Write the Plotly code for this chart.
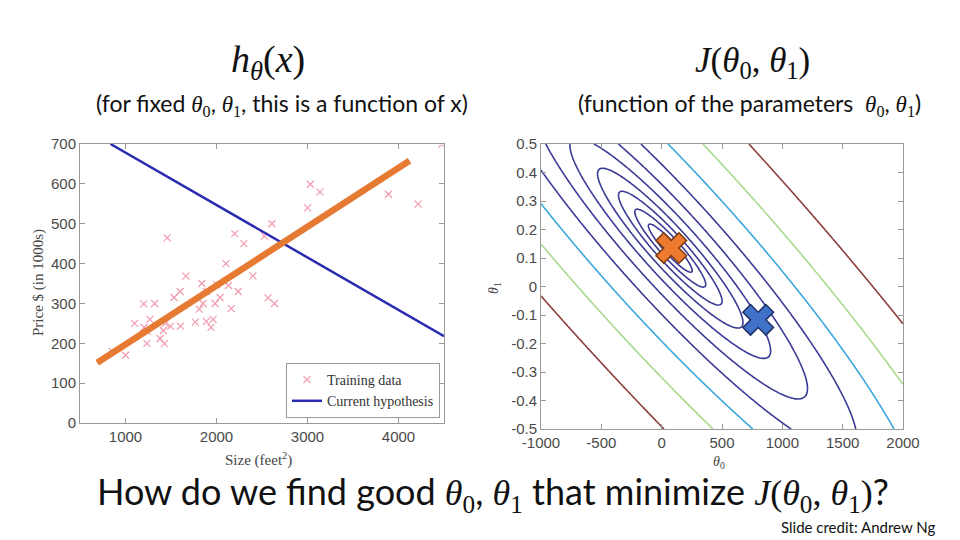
import numpy as np
import plotly.graph_objects as go

# ---------------- data ----------------
size_sqft = [2104, 1600, 2400, 1416, 3000, 1985, 1534, 1427, 1380, 1494, 1940, 2000,
             1890, 4478, 1268, 2300, 1320, 1236, 2609, 3031, 1767, 1888, 1604, 1962,
             3890, 1100, 1458, 2526, 2200, 2637, 1839, 1000, 2040, 3137, 1811, 1437,
             1239, 2132, 4215, 2162, 1664, 2238, 2567, 1200, 852, 1852, 1203]
price_k = [399.9, 329.9, 369.0, 232.0, 539.9, 299.9, 314.9, 199.0, 212.0, 242.5, 240.0, 347.0,
           330.0, 699.9, 259.9, 449.9, 299.9, 199.9, 500.0, 599.0, 252.9, 255.0, 242.9, 259.9,
           573.9, 249.9, 464.5, 469.0, 475.0, 299.9, 349.9, 169.9, 314.9, 579.9, 285.9, 249.9,
           229.9, 345.0, 549.0, 287.0, 368.5, 329.9, 314.0, 299.0, 179.9, 299.9, 239.5]

hyp_x = [835, 4500]      # current hypothesis (blue)
hyp_y = [700, 218]
fit_x = [689, 4121]      # good fit (orange)
fit_y = [151, 658]

theta0_marks = [80, 800]
theta1_marks = [0.135, -0.117]
mark_colors = ["#ec7b30", "#3f72c8"]
mark_edges = ["#7a3a12", "#1d2f66"]

x_ticks = [1000, 2000, 3000, 4000]
y_ticks = [0, 100, 200, 300, 400, 500, 600, 700]
t0_ticks = [-1000, -500, 0, 500, 1000, 1500, 2000]
t0_labels = ["-1000", "-500", "0", "500", "1000", "1500", "2000"]
t1_ticks = [0.5, 0.4, 0.3, 0.2, 0.1, 0, -0.1, -0.2, -0.3, -0.4, -0.5]
t1_labels = ["0.5", "0.4", "0.3", "0.2", "0.1", "0", "-0.1", "-0.2", "-0.3", "-0.4", "-0.5"]

theta0_grid = np.linspace(-1000, 2000, 241)
theta1_grid = np.linspace(-0.5, 0.5, 241)

# cost surface J(theta0, theta1) from the training data
xs = np.array(size_sqft, dtype=float)
ys = np.array(price_k, dtype=float)
T0, T1 = np.meshgrid(theta0_grid, theta1_grid)
J = np.zeros_like(T0)
for xi, yi in zip(xs, ys):
    J += (T0 + T1 * xi - yi) ** 2
J /= 2 * len(xs)
logJ = np.log10(J)

lev_step = 5 / 19
lev_top = 6.0
lev_bot = lev_top - 10 * lev_step

W, H = 960, 540
def px(x):
    return x / W
def py(y):
    return 1 - y / H

fig = go.Figure()

# ---------------- left panel ----------------
fig.add_trace(go.Scatter(
    x=size_sqft, y=price_k, mode="markers", name="Training data",
    marker=dict(symbol="x-thin", size=7, line=dict(width=1.2, color="#f29aae"), color="#f29aae"),
    xaxis="x", yaxis="y"))
fig.add_trace(go.Scatter(
    x=hyp_x, y=hyp_y, mode="lines", name="Current hypothesis",
    line=dict(color="#2b2bb0", width=2.5), xaxis="x", yaxis="y"))
fig.add_trace(go.Scatter(
    x=fit_x, y=fit_y, mode="lines", showlegend=False,
    line=dict(color="#e57a33", width=6.5), xaxis="x", yaxis="y"))

# ---------------- right panel ----------------
cs = [[0, "#3a3a96"], [0.75, "#3a3a96"], [0.75, "#3aa6de"], [0.85, "#3aa6de"],
      [0.85, "#a8d98c"], [0.95, "#a8d98c"], [0.95, "#8b3c3c"], [1, "#8b3c3c"]]
fig.add_trace(go.Contour(
    x=theta0_grid, y=theta1_grid, z=logJ, xaxis="x2", yaxis="y2",
    contours=dict(start=lev_bot, end=lev_top + 1e-6, size=lev_step, coloring="lines"),
    colorscale=cs, zmin=lev_bot, zmax=lev_top, zauto=False,
    line=dict(width=1.6), showscale=False, showlegend=False, hoverinfo="skip"))
fig.add_trace(go.Scatter(
    x=theta0_marks, y=theta1_marks, mode="markers", showlegend=False,
    marker=dict(symbol="x", size=27, color=mark_colors,
                line=dict(width=1.5, color=mark_edges)),
    xaxis="x2", yaxis="y2"))

tickfont = dict(family="Liberation Sans", size=15, color="#4a4a4a")
axis_common = dict(showline=True, mirror="ticks", linecolor="#9a9a9a", linewidth=1,
                   ticks="inside", ticklen=5, tickcolor="#9a9a9a", showgrid=False,
                   zeroline=False, tickfont=tickfont, automargin=False)

fig.update_layout(
    width=W, height=H, margin=dict(l=0, r=0, t=0, b=0, autoexpand=False),
    paper_bgcolor="white", plot_bgcolor="white",
    xaxis=dict(domain=[px(80), px(444)], range=[500, 4500], tickvals=x_ticks,
               anchor="y", **axis_common),
    yaxis=dict(domain=[py(423), py(144)], range=[0, 700], tickvals=y_ticks,
               anchor="x", **axis_common),
    xaxis2=dict(domain=[px(541), px(903)], range=[-1000, 2000],
                tickvals=t0_ticks, ticktext=t0_labels, anchor="y2", **axis_common),
    yaxis2=dict(domain=[py(429), py(144)], range=[-0.5, 0.5],
                tickvals=t1_ticks, ticktext=t1_labels, anchor="x2", **axis_common),
    legend=dict(x=px(440), y=py(418), xanchor="right", yanchor="bottom",
                bgcolor="white", bordercolor="#9a9a9a", borderwidth=1,
                font=dict(family="Liberation Serif", size=14, color="#333333"),
                tracegroupgap=0, itemwidth=30),
    showlegend=True,
)

serif = "Liberation Serif"
sans = "Lato"
th0 = "<span style='font-family:Liberation Serif'><i>θ</i><sub>0</sub></span>"
th1 = "<span style='font-family:Liberation Serif'><i>θ</i><sub>1</sub></span>"

ann = [
    dict(x=px(268), y=py(62), text="<i>h</i><sub><i>θ</i></sub>(<i>x</i>)",
         font=dict(family=serif, size=38, color="#111")),
    dict(x=px(752), y=py(62), text="<i>J</i>(<i>θ</i><sub>0</sub>, <i>θ</i><sub>1</sub>)",
         font=dict(family=serif, size=35, color="#111")),
    dict(x=px(282), y=py(104), text="(for fixed " + th0 + ", " + th1 + ", this is a function of x)",
         font=dict(family=sans, size=23, color="#111")),
    dict(x=px(749), y=py(104), text="(function of the parameters  " + th0 + ", " + th1 + ")",
         font=dict(family=sans, size=23, color="#111")),
    dict(x=px(38), y=py(283), text="Price $ (in 1000s)", textangle=-90,
         font=dict(family=serif, size=15, color="#444")),
    dict(x=px(258), y=py(459), text="Size (feet<sup>2</sup>)",
         font=dict(family=serif, size=15, color="#444")),
    dict(x=px(719), y=py(462), text="<i>θ</i><sub>0</sub>",
         font=dict(family=serif, size=14, color="#444")),
    dict(x=px(494), y=py(288), text="<i>θ</i><sub>1</sub>", textangle=-90,
         font=dict(family=serif, size=14, color="#444")),
    dict(x=px(493), y=py(493),
         text="How do we find good " + th0 + ", " + th1 + " that minimize <span style='font-family:Liberation Serif'><i>J</i>(<i>θ</i><sub>0</sub>, <i>θ</i><sub>1</sub>)</span>?",
         font=dict(family=sans, size=36, color="#111")),
    dict(x=px(937), y=py(527), text="Slide credit: Andrew Ng", xanchor="right",
         font=dict(family=sans, size=15, color="#111")),
]
for a in ann:
    a.setdefault("xanchor", "center")
    a.update(xref="paper", yref="paper", showarrow=False, yanchor="middle")
fig.update_layout(annotations=ann)

fig.write_html("out.html", config={"displayModeBar": False},
               post_script="document.body.style.margin='0px';document.body.style.overflow='hidden';")
